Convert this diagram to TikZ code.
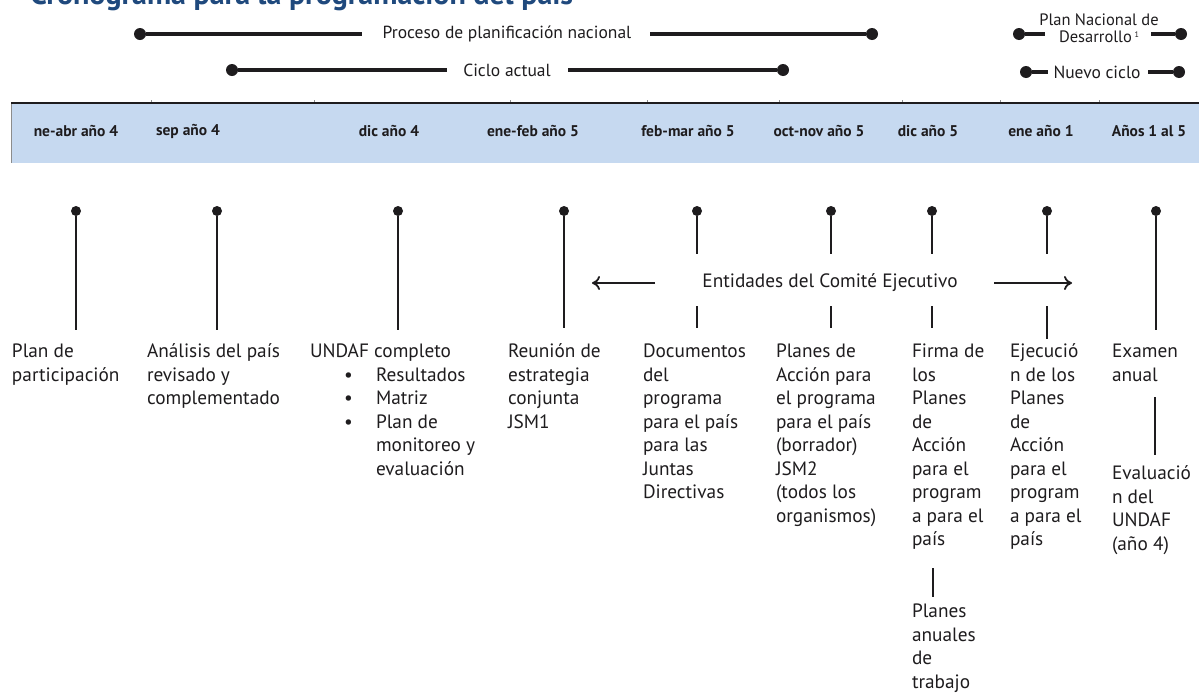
\documentclass[tikz,border=0pt]{standalone}
\usepackage{fontspec}
\setmainfont{PT Sans}
\usetikzlibrary{arrows.meta}
\definecolor{bandblue}{RGB}{198,217,240}
\definecolor{titleblue}{RGB}{31,73,125}
\definecolor{ink}{RGB}{30,28,30}
\begin{document}
\begin{tikzpicture}[x=1pt,y=-1pt,
  every node/.style={inner sep=0pt, outer sep=0pt, text=ink},
  pin/.style={circle, fill=ink, minimum size=10pt},
  pinline/.style={line width=2.2pt, draw=ink},
  legline/.style={line width=3.6pt, draw=ink},
  legdot/.style={circle, fill=ink, minimum size=12pt},
  hdr/.style={font=\fontsize{15.5}{18}\selectfont\bfseries, anchor=center},
  lbl/.style={font=\fontsize{19.3}{23.5}\selectfont, align=left, anchor=north west},
  legtxt/.style={font=\fontsize{17.5}{17}\selectfont, anchor=center},
  entarrow/.style={line width=1.8pt, draw=ink, -{To[length=8pt,width=14pt,line width=1.8pt]}}
]
\useasboundingbox (0,0) rectangle (1199,694);

% title (cut off at the top of the picture)
\node[anchor=base west, font=\fontsize{30}{32}\selectfont\bfseries, text=titleblue] (title) at (30,4) {Cronograma para la programación del país};

% legend
\node[legdot] (pd1) at (140,34) {};
\node[legdot] (pd2) at (872,34) {};
\node[legtxt] (proc) at (507,34) {Proceso de planificación nacional};
\coordinate (pl1) at (362,34);
\coordinate (pl2) at (650,34);
\draw[legline] (pd1) -- (pl1);
\draw[legline] (pl2) -- (pd2);

\node[legdot] (cd1) at (232,70) {};
\node[legdot] (cd2) at (783,70) {};
\node[legtxt] (ciclo) at (507,70) {Ciclo actual};
\coordinate (cl1) at (447,70);
\coordinate (cl2) at (568,70);
\draw[legline] (cd1) -- (cl1);
\draw[legline] (cl2) -- (cd2);

\node[legdot] (nd1) at (1019,34) {};
\node[legdot] (nd2) at (1181,34) {};
\node[legtxt, align=center, font=\fontsize{16.5}{17}\selectfont] (pnd) at (1099,28) {Plan Nacional de\\Desarrollo\,\raisebox{5pt}{\fontsize{8}{9}\selectfont 1}};
\coordinate (nl1) at (1045,34);
\coordinate (nl2) at (1151,34);
\draw[legline] (nd1) -- (nl1);
\draw[legline] (nl2) -- (nd2);

\node[legdot] (vd1) at (1026,72) {};
\node[legdot] (vd2) at (1179,72) {};
\node[legtxt] (nuevo) at (1097,72) {Nuevo ciclo};
\coordinate (vl1) at (1048,72);
\coordinate (vl2) at (1148,72);
\draw[legline] (vd1) -- (vl1);
\draw[legline] (vl2) -- (vd2);

% header band
\fill[bandblue] (11,103) rectangle (1199,163);
\draw[line width=0.5pt, draw=black!45] (11,103) -- (11,163);
\foreach \x in {151,314,510,647,779,902,1000,1099}
  \draw[line width=1pt, draw=black!45] (\x,100) -- (\x,103);
\draw[line width=1.3pt, draw=ink] (11,103) -- (1199,103);

\node[hdr] (h1) at (76,131) {ne-abr año 4};
\node[hdr] (h2) at (188,131) {sep año 4};
\node[hdr] (h3) at (389,131) {dic año 4};
\node[hdr] (h4) at (533,131) {ene-feb año 5};
\node[hdr] (h5) at (688,131) {feb-mar año 5};
\node[hdr] (h6) at (819,131) {oct-nov año 5};
\node[hdr] (h7) at (928,131) {dic año 5};
\node[hdr] (h8) at (1041,131) {ene año 1};
\node[hdr] (h9) at (1149,131) {Años 1 al 5};

% pins
\node[pin] (p1) at (76,211) {};
\node[pin] (p2) at (217,211) {};
\node[pin] (p3) at (398,211) {};
\node[pin] (p4) at (564,211) {};
\node[pin] (p5) at (697,211) {};
\node[pin] (p6) at (831,211) {};
\node[pin] (p7) at (932,211) {};
\node[pin] (p8) at (1047,211) {};
\node[pin] (p9) at (1156,211) {};

\coordinate (e1) at (76,330);
\coordinate (e2) at (217,330);
\coordinate (e3) at (398,330);
\coordinate (e4) at (564,328);
\coordinate (e9) at (1156,330);
\draw[pinline] (p1) -- (e1);
\draw[pinline] (p2) -- (e2);
\draw[pinline] (p3) -- (e3);
\draw[pinline] (p4) -- (e4);
\draw[pinline] (p9) -- (e9);

\foreach \n/\x/\b in {5/697/328, 6/831/328, 7/932/328, 8/1047/339}{
  \coordinate (u\n) at (\x,254);
  \coordinate (v\n) at (\x,306);
  \coordinate (w\n) at (\x,\b);
  \draw[pinline] (p\n) -- (u\n);
  \draw[pinline] (v\n) -- (w\n);
}

% executive committee row
\node[font=\fontsize{19.3}{22}\selectfont] (ent) at (830,283) {Entidades del Comité Ejecutivo};
\coordinate (la0) at (655,283);
\coordinate (la) at (592,283);
\coordinate (ra0) at (994,283);
\coordinate (ra) at (1072,283);
\draw[entarrow] (la0) -- (la);
\draw[entarrow] (ra0) -- (ra);

% labels
\node[lbl] (t1) at (12,344) {Plan de\\participación};
\node[lbl] (t2) at (147,344) {Análisis del país\\revisado y\\complementado};
\node[lbl] (t3) at (310,344) {UNDAF completo\\
\makebox[66pt][l]{\hspace{34pt}\textbullet}Resultados\\
\makebox[66pt][l]{\hspace{34pt}\textbullet}Matriz\\
\makebox[66pt][l]{\hspace{34pt}\textbullet}Plan de\\
\makebox[66pt][l]{}monitoreo y\\
\makebox[66pt][l]{}evaluación};
\node[lbl] (t4) at (508,344) {Reunión de\\estrategia\\conjunta\\JSM1};
\node[lbl] (t5) at (643,344) {Documentos\\del\\programa\\para el país\\para las\\Juntas\\Directivas};
\node[lbl] (t6) at (776,344) {Planes de\\Acción para\\el programa\\para el país\\(borrador)\\JSM2\\(todos los\\organismos)};
\node[lbl] (t7) at (912,344) {Firma de\\los\\Planes\\de\\Acción\\para el\\program\\a para el\\país};
\node[lbl] (t7b) at (912,604) {Planes\\anuales\\de\\trabajo};
\node[lbl] (t8) at (1010,344) {Ejecució\\n de los\\Planes\\de\\Acción\\para el\\program\\a para el\\país};
\node[lbl] (t9) at (1112,344) {Examen\\anual};
\node[lbl] (t9b) at (1112,466) {Evaluació\\n del\\UNDAF\\(año 4)};

\coordinate (f1) at (933,568);
\coordinate (f2) at (933,597);
\draw[pinline] (f1) -- (f2);
\coordinate (x1) at (1155,397);
\coordinate (x2) at (1155,455);
\draw[pinline] (x1) -- (x2);
\end{tikzpicture}
\end{document}
